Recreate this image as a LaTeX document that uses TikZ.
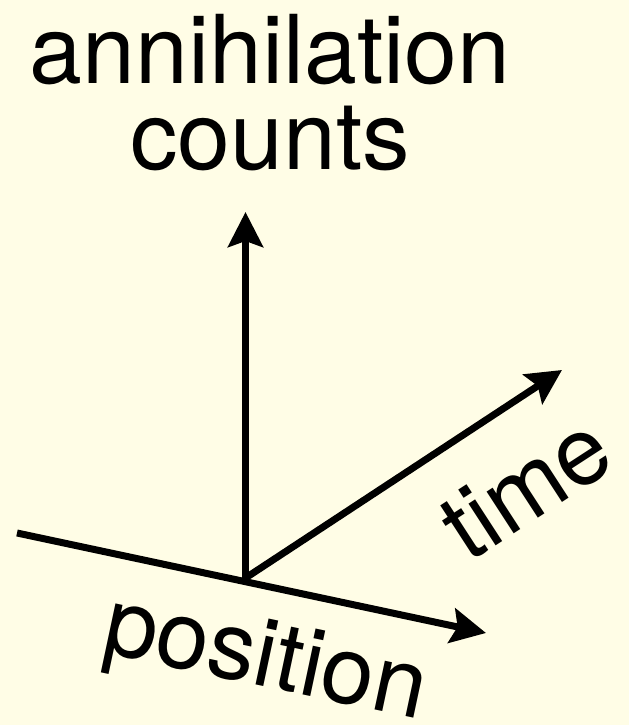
\documentclass[tikz,border=0pt]{standalone}
\usepackage{fontspec}
\setmainfont{TeX Gyre Heros}
\usetikzlibrary{arrows.meta}
\definecolor{bgcream}{RGB}{255,253,230}
\begin{document}
\begin{tikzpicture}[x=1pt,y=1pt,
  axis/.style={line width=7pt,-{Stealth[length=35pt,width=35pt,inset=6pt]}},
  plainaxis/.style={line width=7pt},
  lbl/.style={inner sep=0pt,font=\fontsize{95}{85}\selectfont}]
\fill[bgcream] (0,0) rectangle (629,725);
\useasboundingbox (0,0) rectangle (629,725);
\coordinate (O) at (245.5,147);
\coordinate (up) at (245.5,513);
\coordinate (tm) at (562,355);
\coordinate (ps) at (17,192);
\coordinate (pe) at (486,92);
\draw[axis] (O) -- (up);
\draw[axis] (O) -- (tm);
\draw[axis] (ps) -- (pe);
\node[lbl,anchor=base] (t1) at (270,641) {annihilation};
\node[lbl,anchor=base] (t2) at (270,555) {counts};
\node[lbl,rotate=-12] (pos) at (265,62) {position};
\node[lbl,rotate=33] (time) at (526,238) {time};
\end{tikzpicture}
\end{document}
